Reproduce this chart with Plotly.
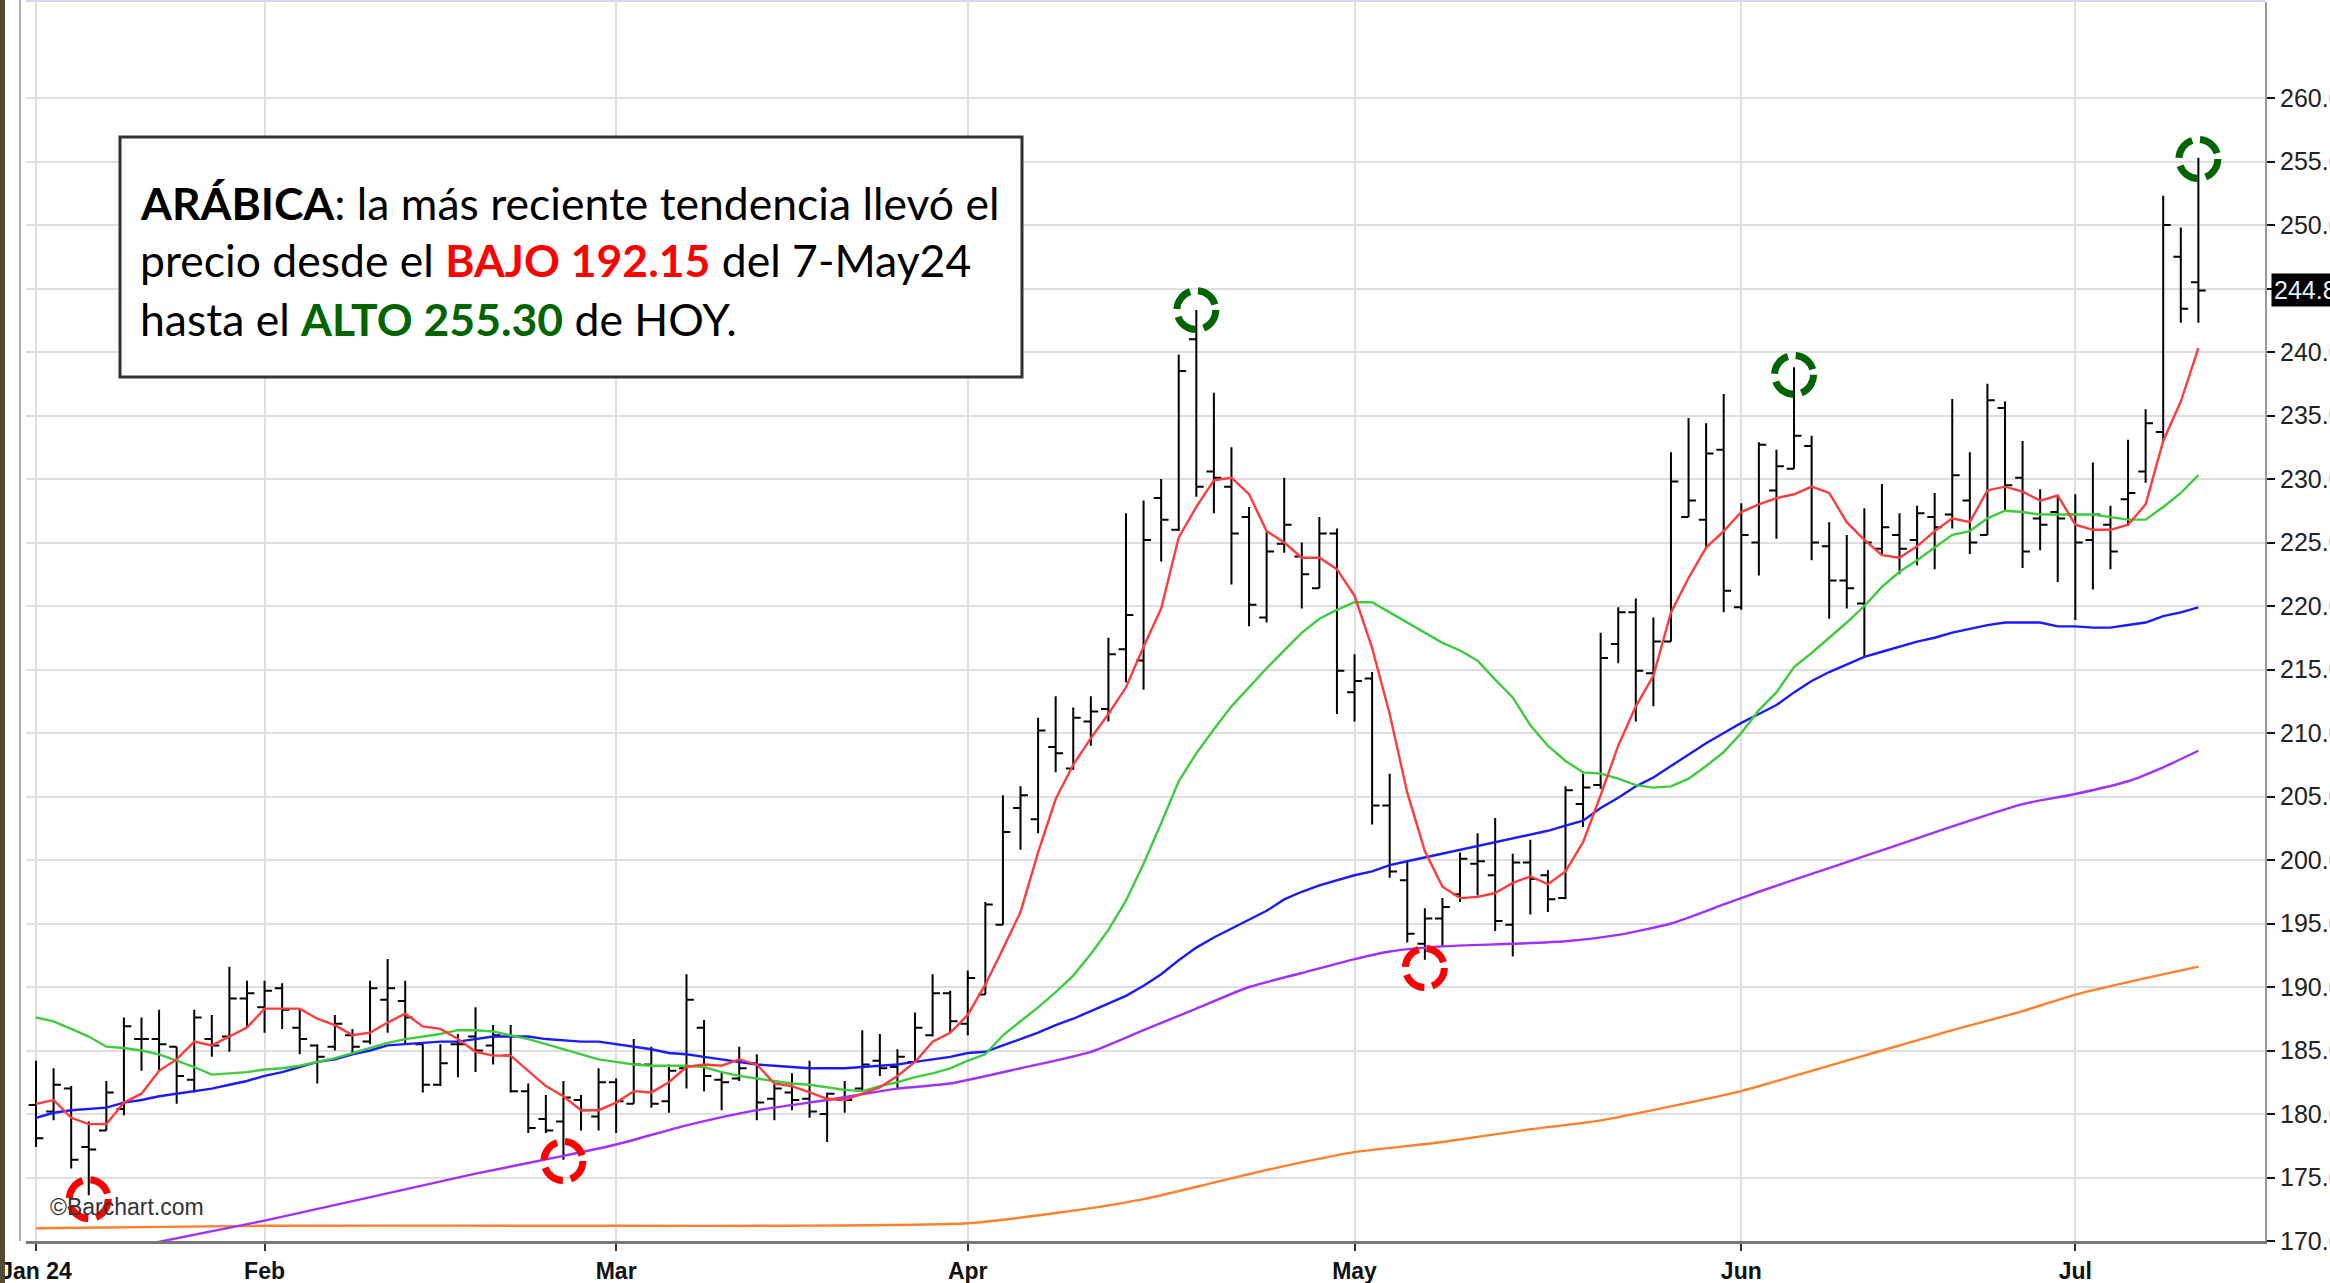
import pandas as pd
import plotly.graph_objects as go

# ---------------- DATA ----------------
holidays = ["2024-01-15", "2024-02-19", "2024-03-29", "2024-05-27", "2024-06-19", "2024-07-04"]
dates = [d.strftime("%Y-%m-%d") for d in pd.bdate_range("2024-01-12", "2024-07-11")
         if d.strftime("%Y-%m-%d") not in holidays]

open_ = [180.7, 180.2, 182.0, 177.4, 178.7, 180.4, 185.9, 185.9, 185.3, 182.7,
         185.9, 186.1, 189.1, 188.4, 189.9, 186.8, 185.4, 185.3, 186.2, 185.7,
         189.0, 188.9, 185.5, 182.3, 185.5, 186.1, 185.4, 184.6, 181.8, 179.6,
         179.4, 181.1, 179.8, 182.5, 180.8, 183.9, 181.0, 183.6, 186.8, 182.7,
         182.8, 184.0, 181.2, 181.7, 181.2, 180.0, 181.1, 182.0, 184.2, 183.7,
         184.1, 186.2, 189.5, 187.1, 189.4, 194.9, 204.1, 203.2, 208.9, 207.2,
         210.9, 211.9, 216.6, 215.7, 228.5, 226.0, 241.0, 230.6, 229.4, 227.0,
         219.1, 224.9, 223.9, 221.4, 225.7, 213.2, 214.3, 204.3, 198.4, 193.4,
         195.4, 197.3, 199.7, 198.8, 194.9, 199.8, 198.8, 197.0, 204.4, 205.9,
         217.0, 219.5, 214.7, 217.2, 227.0, 226.8, 232.3, 219.9, 225.0, 229.1,
         230.8, 232.6, 224.7, 222.0, 220.2, 224.5, 225.6, 225.2, 227.0, 227.2,
         228.3, 225.6, 235.6, 230.1, 226.9, 227.4, 227.2, 225.2, 226.4, 228.4,
         230.6, 233.7, 247.5, 245.5]
high_ = [184.2, 183.6, 182.2, 179.4, 182.6, 187.6, 187.6, 188.2, 185.3, 188.2,
         187.8, 191.6, 190.5, 190.5, 190.3, 188.3, 185.5, 187.8, 186.7, 190.5,
         192.2, 190.5, 185.5, 185.5, 186.3, 188.4, 187.0, 187.0, 182.4, 181.5,
         182.6, 181.5, 183.6, 182.8, 185.9, 185.3, 183.9, 191.0, 187.4, 183.3,
         185.3, 184.7, 182.4, 183.2, 184.2, 181.7, 182.6, 186.6, 186.3, 185.1,
         188.0, 191.0, 189.7, 191.3, 196.7, 205.1, 205.8, 211.2, 212.9, 212.0,
         212.9, 217.5, 227.3, 228.3, 230.0, 239.8, 243.3, 236.8, 232.5, 227.8,
         225.8, 230.1, 225.0, 227.0, 226.1, 216.2, 214.8, 206.8, 199.9, 196.2,
         197.0, 200.6, 202.1, 203.3, 200.5, 201.6, 199.2, 205.8, 206.8, 217.9,
         219.9, 220.6, 219.1, 232.1, 234.8, 234.4, 236.7, 228.1, 232.9, 232.3,
         238.8, 233.4, 226.6, 225.6, 227.7, 229.6, 227.3, 227.9, 228.9, 236.3,
         232.1, 237.5, 236.1, 233.0, 229.2, 228.7, 228.8, 231.3, 227.9, 233.1,
         235.5, 252.3, 249.8, 255.3]
low_ = [177.4, 179.5, 175.7, 173.6, 178.7, 179.9, 183.4, 183.4, 180.8, 181.7,
        184.5, 184.9, 186.8, 186.4, 186.7, 184.7, 182.4, 185.0, 184.7, 185.5,
        186.4, 185.5, 181.7, 182.2, 182.9, 183.3, 183.9, 181.7, 178.5, 178.5,
        176.4, 178.7, 178.7, 178.5, 180.8, 180.5, 180.1, 182.0, 181.8, 180.3,
        182.6, 179.5, 179.5, 180.3, 179.7, 177.8, 180.1, 181.8, 183.0, 182.0,
        184.1, 186.1, 186.4, 186.2, 189.4, 194.9, 200.8, 202.1, 206.9, 207.1,
        209.0, 210.9, 214.0, 213.4, 223.5, 225.9, 228.6, 227.3, 221.7, 218.4,
        218.7, 224.2, 219.8, 221.4, 211.5, 210.9, 202.8, 198.6, 193.5, 192.15,
        193.2, 196.7, 197.2, 194.4, 192.4, 195.7, 195.9, 196.9, 202.6, 205.6,
        215.5, 210.9, 212.1, 217.2, 227.0, 224.5, 219.5, 219.7, 222.4, 225.3,
        230.8, 223.6, 219.0, 219.8, 216.0, 224.1, 222.5, 223.2, 222.9, 226.1,
        224.1, 225.6, 227.5, 223.0, 224.4, 221.9, 218.9, 221.3, 222.9, 226.3,
        229.7, 233.0, 242.3, 242.3]
close_ = [178.1, 182.3, 176.4, 177.2, 181.7, 186.9, 185.9, 185.5, 183.0, 187.6,
          185.4, 189.1, 189.5, 189.7, 188.2, 185.9, 184.5, 187.1, 185.3, 189.9,
          189.9, 187.6, 182.3, 184.0, 185.5, 185.0, 186.2, 181.8, 178.9, 178.7,
          181.3, 180.3, 182.5, 181.0, 183.9, 180.8, 183.4, 189.0, 183.0, 182.5,
          183.6, 180.9, 182.0, 181.1, 180.2, 181.6, 181.1, 183.9, 183.6, 184.5,
          186.8, 189.5, 187.3, 190.7, 196.5, 202.2, 205.1, 210.2, 208.4, 211.2,
          211.7, 216.2, 219.3, 225.2, 226.8, 238.5, 229.4, 230.1, 225.7, 220.1,
          224.3, 226.4, 222.5, 225.7, 214.9, 214.1, 204.3, 199.1, 194.2, 195.4,
          196.3, 200.1, 199.9, 195.2, 199.8, 198.5, 196.9, 205.5, 205.7, 215.9,
          219.5, 214.9, 217.2, 229.8, 228.3, 232.0, 221.2, 225.6, 232.7, 231.0,
          233.4, 225.0, 222.0, 221.4, 225.0, 226.2, 224.5, 227.3, 226.2, 230.3,
          225.0, 236.2, 229.5, 224.3, 226.4, 226.9, 225.0, 227.2, 224.3, 228.9,
          234.4, 250.0, 243.4, 244.85]

ma_red = [180.8, 181.1, 179.7, 179.2, 179.2, 180.9, 181.6, 183.4, 184.3, 185.7,
          185.4, 186.1, 186.8, 188.3, 188.3, 188.3, 187.5, 187.0, 186.2, 186.4,
          187.2, 187.9, 186.9, 186.7, 185.9, 184.9, 184.6, 184.6, 183.4, 182.2,
          181.4, 180.3, 180.3, 180.9, 181.8, 181.7, 182.5, 183.7, 183.9, 183.8,
          184.3, 183.9, 182.4, 182.2, 181.7, 181.2, 181.1, 181.6, 182.1, 183.0,
          184.1, 185.7, 186.4, 187.8, 190.2, 193.0, 195.9, 200.6, 204.8, 207.5,
          209.6, 211.5, 213.6, 216.8, 219.8, 225.4, 227.8, 229.9, 230.1, 228.8,
          225.9, 225.0, 223.8, 223.8, 222.9, 220.8, 216.7, 211.5, 205.3, 200.7,
          197.9, 197.0, 197.1, 197.4, 198.2, 198.7, 198.1, 199.1, 201.4, 205.1,
          209.0, 212.1, 214.5, 219.5, 222.2, 224.6, 225.9, 227.4, 228.0, 228.5,
          228.8, 229.4, 228.9, 226.6, 225.2, 224.0, 223.8, 224.7, 225.9, 226.9,
          226.6, 229.1, 229.4, 229.0, 228.3, 228.7, 226.4, 226.0, 226.0, 226.4,
          228.0, 233.0, 236.1, 240.3]
ma_green = [187.6, 187.3, 186.7, 186.1, 185.3, 185.2, 185.0, 184.7, 184.2, 183.7,
            183.1, 183.2, 183.3, 183.5, 183.6, 183.8, 184.1, 184.4, 184.8, 185.2,
            185.6, 185.9, 186.1, 186.3, 186.6, 186.6, 186.5, 186.2, 185.9, 185.5,
            185.1, 184.7, 184.3, 184.1, 183.9, 183.8, 183.8, 183.8, 183.7, 183.3,
            183.0, 182.8, 182.6, 182.4, 182.3, 182.1, 181.9, 181.8, 182.2, 182.5,
            182.9, 183.2, 183.6, 184.2, 184.7, 186.2, 187.3, 188.4, 189.6, 190.9,
            192.6, 194.5, 196.8, 199.7, 202.9, 206.2, 208.4, 210.3, 212.1, 213.6,
            215.1, 216.5, 217.9, 219.0, 219.7, 220.3, 220.3, 219.5, 218.7, 217.9,
            217.1, 216.5, 215.7, 214.2, 212.8, 210.6, 209.0, 207.8, 206.9, 206.8,
            206.4, 205.9, 205.7, 205.8, 206.4, 207.4, 208.5, 210.0, 211.8, 213.2,
            215.2, 216.3, 217.5, 218.7, 220.0, 221.5, 222.7, 223.6, 224.6, 225.6,
            225.9, 226.9, 227.5, 227.4, 227.2, 227.2, 227.2, 227.2, 227.0, 226.8,
            226.8, 227.8, 228.9, 230.3]
ma_blue = [179.7, 180.1, 180.3, 180.4, 180.5, 180.9, 181.1, 181.4, 181.6, 181.8,
           182.0, 182.3, 182.6, 183.0, 183.3, 183.7, 184.1, 184.3, 184.7, 185.0,
           185.4, 185.5, 185.6, 185.7, 185.7, 185.9, 186.1, 186.1, 186.1, 185.9,
           185.8, 185.7, 185.7, 185.5, 185.3, 185.1, 184.8, 184.7, 184.5, 184.3,
           184.1, 183.9, 183.8, 183.7, 183.6, 183.6, 183.6, 183.7, 183.8, 183.9,
           184.1, 184.3, 184.5, 184.8, 184.9, 185.4, 185.9, 186.4, 187.0, 187.5,
           188.1, 188.7, 189.3, 190.1, 191.0, 192.1, 193.1, 193.9, 194.6, 195.3,
           196.0, 196.9, 197.5, 198.0, 198.4, 198.8, 199.1, 199.6, 199.9, 200.2,
           200.5, 200.8, 201.1, 201.4, 201.7, 202.0, 202.3, 202.7, 203.1, 204.1,
           204.9, 205.8, 206.5, 207.4, 208.3, 209.2, 210.0, 210.8, 211.5, 212.2,
           213.2, 214.1, 214.8, 215.4, 216.0, 216.4, 216.8, 217.2, 217.5, 217.9,
           218.2, 218.5, 218.7, 218.7, 218.7, 218.4, 218.4, 218.3, 218.3, 218.5,
           218.7, 219.2, 219.5, 219.9]
ma_purple_bar = [0, 13, 25, 30, 33, 37, 41, 45, 49, 52, 56, 60, 63, 66, 69, 72, 75, 77,
                 80, 84, 87, 90, 93, 96, 98, 101, 104, 107, 110, 113, 116, 119, 121, 123]
ma_purple = [168.0, 171.6, 175.3, 176.7, 177.6, 179.1, 180.3, 181.1, 182.0, 182.4, 183.6,
             184.9, 186.6, 188.3, 190.0, 191.1, 192.2, 192.8, 193.2, 193.4, 193.6, 194.1,
             195.0, 196.5, 197.5, 198.9, 200.3, 201.7, 203.1, 204.4, 205.2, 206.2, 207.3, 208.6]
ma_orange_bar = [0, 13, 33, 43, 53, 58, 63, 67, 71, 75, 80, 85, 89, 93, 97, 101, 105,
                 109, 113, 116, 120, 123]
ma_orange = [171.0, 171.2, 171.2, 171.2, 171.4, 172.2, 173.3, 174.6, 175.9, 177.0, 177.8,
             178.8, 179.5, 180.6, 181.8, 183.4, 185.0, 186.6, 188.1, 189.4, 190.7, 191.6]

circle_hi_dates = ["2024-04-18", "2024-06-06", "2024-07-11"]
circle_hi_vals = [243.3, 238.2, 255.2]
circle_lo_dates = ["2024-01-18", "2024-02-27", "2024-05-07"]
circle_lo_vals = [173.3, 176.3, 191.5]

last_price = 244.85
ytick_vals = list(range(170, 261, 5))
ytick_text = ["" if v == 245 else f"{v:.2f}" for v in ytick_vals]
month_ticks = ["2024-01-12", "2024-02-01", "2024-03-01", "2024-04-01", "2024-05-01",
               "2024-06-03", "2024-07-01"]
month_labels = ["Jan 24", "Feb", "Mar", "Apr", "May", "Jun", "Jul"]

text_lines = [
    "<b>ARÁBICA</b>: la más reciente tendencia llevó el",
    "precio desde el <b><span style='color:#ff0000'>BAJO 192.15</span></b> del 7-May24",
    "hasta el <b><span style='color:#006400'>ALTO 255.30</span></b> de HOY.",
]

# ---------------- LAYOUT GEOMETRY ----------------
W, H = 2330, 1283
L, R, T, B = 26, 2265, 2, 1241
PW, PH = R - L, B - T


def px_x(x):
    return (x - L) / PW


def px_y(y):
    return (B - y) / PH


fig = go.Figure()
fig.add_trace(go.Ohlc(
    x=dates, open=open_, high=high_, low=low_, close=close_,
    increasing=dict(line=dict(color="#000000", width=2)),
    decreasing=dict(line=dict(color="#000000", width=2)),
    tickwidth=0.42, hoverinfo="skip", showlegend=False,
))

line_w = 2.4
fig.add_trace(go.Scatter(x=[dates[i] for i in ma_orange_bar], y=ma_orange, mode="lines",
                         line=dict(color="#ff7f2a", width=line_w, shape="spline", smoothing=0.6),
                         hoverinfo="skip", showlegend=False))
fig.add_trace(go.Scatter(x=[dates[i] for i in ma_purple_bar], y=ma_purple, mode="lines",
                         line=dict(color="#a030ff", width=line_w, shape="spline", smoothing=0.6),
                         hoverinfo="skip", showlegend=False))
fig.add_trace(go.Scatter(x=dates, y=ma_blue, mode="lines",
                         line=dict(color="#1a1aff", width=line_w),
                         hoverinfo="skip", showlegend=False))
fig.add_trace(go.Scatter(x=dates, y=ma_green, mode="lines",
                         line=dict(color="#3dcc3d", width=line_w),
                         hoverinfo="skip", showlegend=False))
fig.add_trace(go.Scatter(x=dates, y=ma_red, mode="lines",
                         line=dict(color="#ff3c3c", width=line_w),
                         hoverinfo="skip", showlegend=False))

shapes = []
shapes.append(dict(type="rect", xref="paper", yref="paper", x0=px_x(0), x1=px_x(5),
                   y0=px_y(H), y1=px_y(0), fillcolor="#504c36", line=dict(width=0), layer="above"))
shapes.append(dict(type="line", xref="paper", yref="paper", x0=px_x(20), x1=px_x(20),
                   y0=px_y(B), y1=px_y(0), line=dict(color="#b0b0b0", width=2)))
shapes.append(dict(type="line", xref="paper", yref="paper", x0=0, x1=1,
                   y0=px_y(1), y1=px_y(1), line=dict(color="#d6d6ee", width=2)))

for dlist, vlist, col in [(circle_hi_dates, circle_hi_vals, "#006400"),
                          (circle_lo_dates, circle_lo_vals, "#ff0000")]:
    for d, v in zip(dlist, vlist):
        idx = dates.index(d)
        shapes.append(dict(type="circle", xref="x", yref="y", xsizemode="pixel", ysizemode="pixel",
                           xanchor=idx, yanchor=v, x0=-19.5, x1=19.5, y0=-19.5, y1=19.5,
                           line=dict(color=col, width=7, dash="23px,8px"), layer="above"))

shapes.append(dict(type="rect", xref="paper", yref="paper", x0=px_x(120), x1=px_x(1022),
                   y0=px_y(377), y1=px_y(137), fillcolor="#ffffff",
                   line=dict(color="#333333", width=3), layer="above"))

annotations = []
for txt, yc in zip(text_lines, [202, 260, 318]):
    annotations.append(dict(xref="paper", yref="paper", x=px_x(138), y=px_y(yc),
                            xanchor="left", yanchor="middle", showarrow=False, text=txt,
                            font=dict(family="Lato, Open Sans, sans-serif", size=44.5,
                                      color="#000000")))

annotations.append(dict(xref="paper", yref="paper", x=px_x(48), y=px_y(1207),
                        xanchor="left", yanchor="middle", showarrow=False,
                        text="©Barchart.com",
                        font=dict(family="Liberation Sans Narrow, Liberation Sans, Arial", size=23,
                                  color="#333333")))
annotations.append(dict(xref="paper", yref="y", x=1, xshift=6, y=last_price,
                        xanchor="left", yanchor="middle", showarrow=False,
                        text="244.85", bgcolor="#000000", borderpad=2,
                        font=dict(family="Liberation Sans Narrow, Liberation Sans, Arial", size=25,
                                  color="#e6f0ff")))

fig.update_layout(
    width=W, height=H,
    margin=dict(l=L, r=W - R, t=T, b=H - B, autoexpand=False),
    paper_bgcolor="#ffffff", plot_bgcolor="#ffffff",
    showlegend=False,
    shapes=shapes, annotations=annotations,
    xaxis=dict(
        type="category", categoryorder="array", categoryarray=dates,
        range=[-0.57, 126.79], rangeslider=dict(visible=False), automargin=False,
        tickmode="array", tickvals=month_ticks, ticktext=month_labels,
        ticks="outside", ticklen=7, tickwidth=2, tickcolor="#333333",
        showgrid=True, gridcolor="#dedede", gridwidth=2,
        showline=True, linecolor="#777777", linewidth=3,
        tickfont=dict(family="Liberation Sans Narrow, Liberation Sans, Arial", size=23,
                      color="#111111", weight="bold"),
        zeroline=False,
    ),
    yaxis=dict(
        side="right", range=[170, 267.56], automargin=False,
        tickmode="array", tickvals=ytick_vals, ticktext=ytick_text,
        ticks="outside", ticklen=8, tickwidth=2, tickcolor="#111111",
        showgrid=True, gridcolor="#dedede", gridwidth=2,
        showline=True, linecolor="#999999", linewidth=2,
        tickfont=dict(family="Liberation Sans Narrow, Liberation Sans, Arial", size=25,
                      color="#222222"),
        zeroline=False,
    ),
)

fig.write_html(
    "out.html",
    config={"displayModeBar": False},
    post_script="document.body.style.margin='0';document.body.style.padding='0';"
                "document.body.style.overflow='hidden';",
)
